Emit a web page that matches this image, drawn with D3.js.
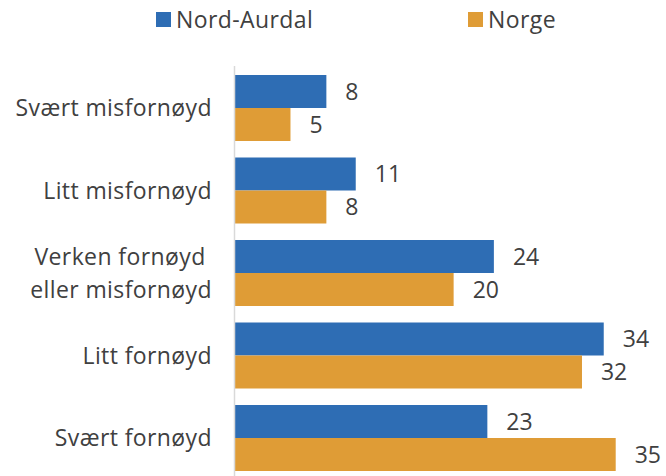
<!DOCTYPE html>
<html><head><meta charset="utf-8">
<script src="https://cdn.jsdelivr.net/npm/d3@7"></script>
<style>body{margin:0;background:#fff}svg{display:block;font-family:"Open Sans",sans-serif}</style>
</head><body><svg id="c" width="666" height="476"></svg>
<script>
const categories = [["Svært misfornøyd"],["Litt misfornøyd"],["Verken fornøyd\u00a0","eller misfornøyd"],["Litt fornøyd"],["Svært fornøyd"]];
const seriesNames = ["Nord-Aurdal","Norge"];
const nordAurdal = [8.4,11.1,23.8,33.9,23.2];
const norge = [5.1,8.4,20.1,31.9,35.0];
const colors = ["#2e6db4","#df9c36"];

const svg = d3.select("#c");
const keys = categories.map((c,i)=>i);
const x = d3.scaleLinear().domain([0,35]).range([235,615.7]);
const y = d3.scaleBand().domain(keys).range([66.75,479.25]).paddingInner(0.2).paddingOuter(0.1);
const sub = d3.scaleBand().domain([0,1]).range([0,y.bandwidth()]);
const series = [nordAurdal, norge];
const fmt = d3.format(".0f");

series.forEach((vals,s)=>{
  svg.append("g").selectAll("rect").data(vals).join("rect")
    .attr("x",x(0)).attr("y",(d,i)=>y(i)+sub(s))
    .attr("width",d=>x(d)-x(0)).attr("height",sub.bandwidth())
    .attr("fill",colors[s]);
  svg.append("g").selectAll("text").data(vals).join("text")
    .attr("x",d=>x(d)+19).attr("y",(d,i)=>y(i)+sub(s)+sub.bandwidth()/2)
    .attr("dy","0.36em").attr("font-size",23).attr("fill","#404040")
    .text(d=>fmt(d));
});

// axis line
svg.append("line").attr("x1",234.5).attr("x2",234.5).attr("y1",66).attr("y2",476)
  .attr("stroke","#d9d9d9").attr("stroke-width",1.5);

// category labels
const fs = 23, lh = 33;
const cl = svg.append("g").selectAll("text").data(categories).join("text")
  .attr("x",212).attr("text-anchor","end").attr("font-size",fs).attr("fill","#404040")
  .attr("letter-spacing","0.4px").style("white-space","pre")
  .attr("y",(d,i)=>y(i)+y.bandwidth()/2);
cl.each(function(lines){
  const t=d3.select(this);
  const n=lines.length;
  lines.forEach((l,j)=>t.append("tspan").attr("x",212)
    .attr("dy", j===0 ? ((-(n-1)/2)*lh/fs+0.36)+"em" : (lh/fs)+"em").text(l));
});

// legend
const lx=[156,468];
seriesNames.forEach((n,s)=>{
  svg.append("rect").attr("x",lx[s]).attr("y",12).attr("width",15).attr("height",15).attr("fill",colors[s]);
  svg.append("text").attr("x",lx[s]+20).attr("y",19.5).attr("dy","0.36em").attr("font-size",23)
    .attr("letter-spacing","0.4px").attr("fill","#404040").text(n);
});
</script></body></html>
